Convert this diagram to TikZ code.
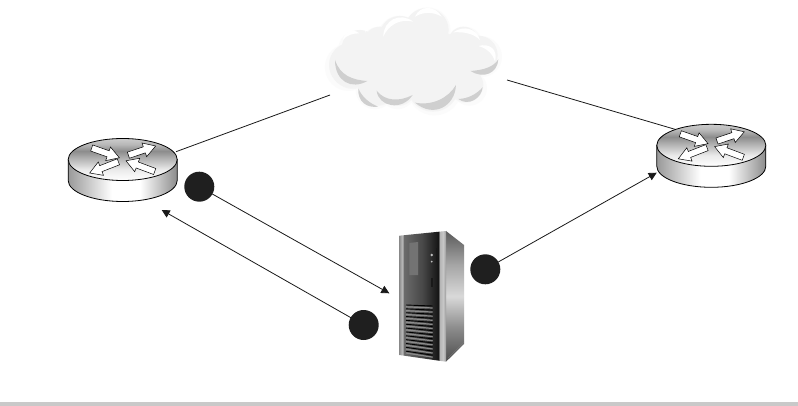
\documentclass[tikz,border=0pt]{standalone}
\usetikzlibrary{calc,arrows.meta}
\pgfdeclareverticalshading{rtop}{100bp}{color(0bp)=(white); color(25bp)=(white); color(38bp)=(white!92!black); color(50bp)=(white!72!black); color(60bp)=(white!55!black); color(68bp)=(white!72!black); color(75bp)=(white!80!black); color(100bp)=(white!80!black)}
\pgfdeclarehorizontalshading{rside}{100bp}{color(0bp)=(white!60!black); color(25bp)=(white!60!black); color(45bp)=(white); color(58bp)=(white); color(75bp)=(white!55!black); color(100bp)=(white!55!black)}
\pgfdeclarehorizontalshading{sfront}{100bp}{color(0bp)=(white!55!black); color(25bp)=(white!55!black); color(28bp)=(white!72!black); color(29.5bp)=(white!55!black); color(30bp)=(white!42!black); color(50bp)=(white!28!black); color(67bp)=(white!8!black); color(68bp)=(white!70!black); color(72bp)=(white!78!black); color(75bp)=(white!60!black); color(100bp)=(white!60!black)}
\pgfdeclareverticalshading{sside}{100bp}{color(0bp)=(white!30!black); color(25bp)=(white!30!black); color(38bp)=(white!55!black); color(50bp)=(white!85!black); color(62bp)=(white!65!black); color(75bp)=(white!35!black); color(100bp)=(white!35!black)}
\definecolor{cloudbody}{HTML}{F3F3F3}
\definecolor{cloudhalo}{HTML}{F5F5F5}
\definecolor{cloudsoft}{HTML}{FBFBFB}
\definecolor{cloudshade}{HTML}{CFCFCF}
\definecolor{barcol}{HTML}{C9C9C9}
\tikzset{
  x=1pt,y=-1pt,
  link/.style={line width=0.8pt,black!90},
  flow/.style={line width=0.8pt,black!90,-{Triangle[length=8pt,width=8pt]},shorten <=-0.5pt},
  badge/.style={circle,fill=black!88,minimum size=30pt,inner sep=0pt},
  rarrow/.style={fill=white,draw=black,line width=0.5pt,line join=miter},
  outline/.style={draw=black,line width=0.8pt},
}
\newcommand{\rarr}[2]{%
  \coordinate (ta) at (#1); \coordinate (ti) at (#2);
  \coordinate (hb) at ($(ti)!12pt!(ta)$);
  \draw[rarrow] ($(ta)!3.2pt!90:(ti)$) -- ($(hb)!3.2pt!90:(ti)$) -- ($(hb)!7.2pt!90:(ti)$) -- (ti) -- ($(hb)!7.2pt!-90:(ti)$) -- ($(hb)!3.2pt!-90:(ti)$) -- ($(ta)!3.2pt!-90:(ti)$) -- cycle;}
\newcommand{\router}[2]{%
  \begin{scope}[shift={(#1,#2)}]
    \shade[shading=rside,outline] (-54.5,0) -- (-54.5,21) .. controls (-54.5,32.6) and (-30,42) .. (0,42) .. controls (30,42) and (54.5,32.6) .. (54.5,21) -- (54.5,0) -- cycle;
    \shade[shading=rtop,outline] (0,0) ellipse [x radius=54.5,y radius=21];
    \rarr{-31,-11.5}{-3.3,-1.7}
    \rarr{5.7,-4.3}{33,-13.5}
    \rarr{-4.3,2.3}{-33,13.5}
    \rarr{32,12}{3.3,1.3}
  \end{scope}}
\newcommand{\lobes}[1]{%
  \fill[#1] (240,110) circle (62) (320,90) circle (66) (430,125) circle (45) (475,165) circle (58)
   (120,145) circle (55) (95,195) circle (68) (170,260) circle (55) (235,265) circle (50)
   (340,255) circle (78) (440,255) circle (50) (180,130) circle (50) (300,190) ellipse (180 and 100);}
\begin{document}
\begin{tikzpicture}
\useasboundingbox (0,0) rectangle (798,406);
\fill[white] (0,0) rectangle (798,406);
\fill[barcol] (0,401.7) rectangle (798,406);
% cloud
\begin{scope}[shift={(320,0)},scale=0.3333]
  \begin{scope}[shift={(0,6)}]
  \foreach \k/\c in {1.0/cloudsoft,0.93/cloudhalo}{
  \begin{scope}[shift={(275,185)},scale=\k*1.05,shift={(-275,-185)}]\lobes{\c}\end{scope}}
  \end{scope}
  \lobes{cloudbody}
  \fill[cloudshade] (45,180) .. controls (45,245) and (95,270) .. (142,243) .. controls (95,240) and (60,225) .. (45,180) -- cycle;
  \fill[cloudshade] (115,265) .. controls (112,305) and (140,325) .. (175,320) .. controls (148,310) and (125,290) .. (115,265) -- cycle;
  \fill[cloudshade] (170,272) .. controls (175,320) and (245,335) .. (278,285) .. controls (240,305) and (195,305) .. (170,272) -- cycle;
  \fill[cloudshade] (285,308) .. controls (340,355) and (405,320) .. (408,255) .. controls (385,295) and (335,318) .. (285,308) -- cycle;
  \fill[cloudshade] (415,297) .. controls (445,320) and (485,295) .. (488,262) .. controls (470,282) and (445,296) .. (415,297) -- cycle;
  \fill[cloudshade] (452,213) .. controls (490,238) and (533,220) .. (535,178) .. controls (520,202) and (490,210) .. (452,213) -- cycle;
  \fill[white] (190,110) .. controls (190,60) and (240,35) .. (280,65) .. controls (240,55) and (205,75) .. (190,110) -- cycle;
  \fill[white] (285,50) .. controls (300,15) and (345,15) .. (365,50) .. controls (340,35) and (310,35) .. (285,50) -- cycle;
  \fill[white] (135,98) .. controls (145,65) and (165,65) .. (175,75) .. controls (160,78) and (145,85) .. (135,98) -- cycle;
  \fill[white] (68,120) .. controls (75,90) and (100,85) .. (118,100) .. controls (100,100) and (80,105) .. (68,120) -- cycle;
  \fill[white] (400,97) .. controls (430,75) and (470,85) .. (480,120) .. controls (460,100) and (430,95) .. (400,97) -- cycle;
  \fill[white] (475,138) .. controls (510,128) and (535,150) .. (525,185) .. controls (518,160) and (500,145) .. (475,138) -- cycle;
\end{scope}
% routers
\router{122.7}{159.5}
\router{711.3}{145.3}
% server
\begin{scope}
  \shade[shading=sside] (446,231) -- (464,245) -- (464,344) -- (446,361.7) -- cycle;
  \draw[black!50,line width=0.3pt] (448,358) -- (464,342);
  \shade[shading=sfront] (399.3,235.7) -- (446,231) -- (446,361.7) -- (399.3,355) -- cycle;
  \fill[black!55] (409.3,243) -- (418,242) -- (418,275) -- (409.3,275) -- cycle;
  \fill[black!90] (436,248) -- (437.5,248) -- (437.5,262) -- (436,262) -- cycle;
  \fill[black!90] (430.5,278) -- (432.5,278) -- (432.5,287) -- (430.5,287) -- cycle;
  \fill[black!25] (431.7,255) circle (1.3) (431.7,261.7) circle (1);
  \foreach \i in {0,...,12}{
    \draw[black!45,line width=1.2pt] (406,{306.8+\i*3.85}) -- (432.7,{308+\i*4.1});
    \draw[black,line width=0.9pt] (406,{305+\i*3.85}) -- (432.7,{306+\i*4.1});}
\end{scope}
% badges
\node[badge] (b1) at (199.3,186.7) {};
\node[badge] (b2) at (363.7,325) {};
\node[badge] (b3) at (485.3,269.3) {};
% anchors
\coordinate (rlCloud) at (176,151.7);
\coordinate (cloudL) at (330,95);
\coordinate (cloudR) at (507,80);
\coordinate (rrCloud) at (675,129.3);
\coordinate (srvIn) at (389.3,293.3);
\coordinate (rlIn) at (161.7,210);
\coordinate (rrIn) at (656.7,172.7);
\draw[link] (rlCloud) -- (cloudL);
\draw[link] (cloudR) -- (rrCloud);
\draw[flow] (b1) -- (srvIn);
\draw[flow] (b2) -- (rlIn);
\draw[flow] (b3) -- (rrIn);
\end{tikzpicture}
\end{document}
